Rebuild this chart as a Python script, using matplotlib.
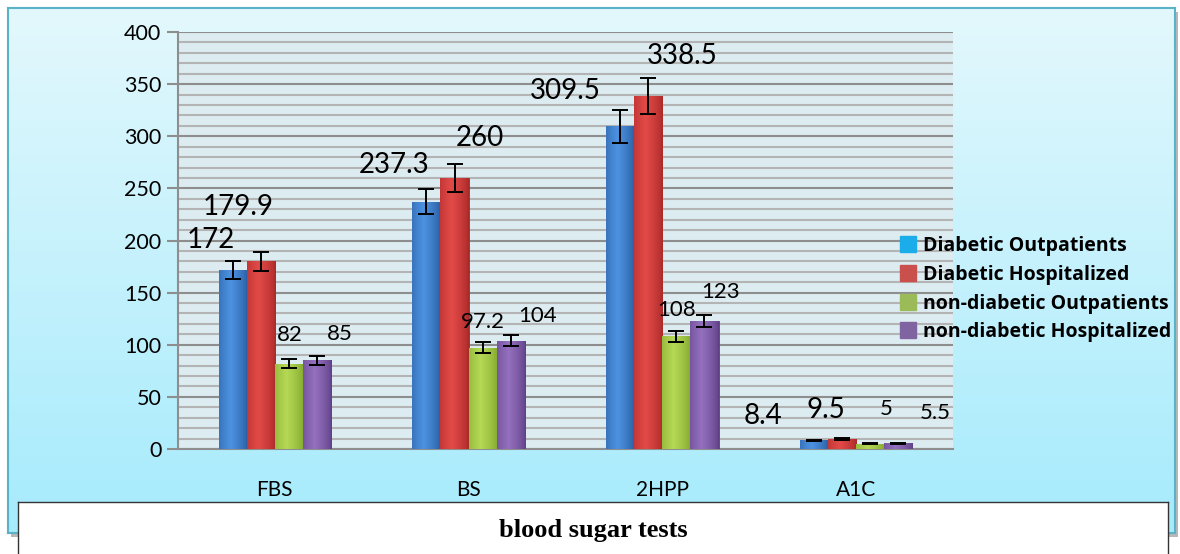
import numpy as np
import matplotlib
matplotlib.use("Agg")
import matplotlib.pyplot as plt
from matplotlib.colors import to_rgb
from matplotlib.lines import Line2D

plt.rcParams['font.family'] = ['Lato', 'DejaVu Sans']

categories = ['FBS', 'BS', '2HPP', 'A1C']
series_names = ['Diabetic Outpatients', 'Diabetic Hospitalized',
                'non-diabetic Outpatients', 'non-diabetic Hospitalized']
diab_out = [172, 237.3, 309.5, 8.4]
diab_hosp = [179.9, 260, 338.5, 9.5]
non_out = [82, 97.2, 108, 5]
non_hosp = [85, 104, 123, 5.5]
err_diab_out = [8.5, 12, 15.5, 0.5]
err_diab_hosp = [9, 13, 17, 0.6]
err_non_out = [4, 5, 5.5, 0.3]
err_non_hosp = [4.5, 5.5, 6, 0.3]

values = [diab_out, diab_hosp, non_out, non_hosp]
errors = [err_diab_out, err_diab_hosp, err_non_out, err_non_hosp]

# bar colours (dark edge, light centre) and legend swatches
bar_dark = ['#275A9E', '#A82828', '#7FA52C', '#5E3F85']
bar_light = ['#4D92E0', '#E24A47', '#B5D855', '#9470BE']
legend_cols = ['#1AADEA', '#C9504D', '#9BBB59', '#8064A2']
label_sizes = [20, 20, 16, 16]
# label offsets in pixels from top of each bar (dx, dy)
label_off = [
    [(-22, 30), (-32, 37), (-55, 35), (-51, 24)],
    [(-23, 54), (25, 40), (34, 40), (-16, 29)],
    [(1, 29), (0, 26), (0, 26), (16, 35)],
    [(23, 26), (27, 25), (16, 29), (37, 30)],
]

fig = plt.figure(figsize=(11.8, 5.54), dpi=100)
fig.patch.set_facecolor('white')

# light blue panel with vertical gradient
shadow = fig.add_axes([0.0095, 0.030, 0.989, 0.9476], zorder=0)
shadow.set_facecolor('#B8B8B8')
shadow.set_xticks([]); shadow.set_yticks([])
for s in shadow.spines.values():
    s.set_visible(False)
panel = fig.add_axes([0.0068, 0.038, 0.989, 0.9476], zorder=1)
grad = np.linspace(0, 1, 256)[:, None]
top_c = np.array(to_rgb('#E3F8FD'))
bot_c = np.array(to_rgb('#A6EBFC'))
img = top_c[None, None, :] * (1 - grad[..., None]) + bot_c[None, None, :] * grad[..., None]
panel.imshow(img, aspect='auto', extent=[0, 1, 0, 1])
panel.set_xticks([]); panel.set_yticks([])
for s in panel.spines.values():
    s.set_color('#5AB2C6')
    s.set_linewidth(1.5)

ax = fig.add_axes([0.1508, 0.1895, 0.6568, 0.7527], zorder=2)
ax.set_facecolor('#DCECF1')

x = np.arange(len(categories))
w = 0.145
for i, (vals, errs) in enumerate(zip(values, errors)):
    pos = x + (i - 1.5) * w
    bars = ax.bar(pos, vals, w, color=bar_dark[i], edgecolor=bar_dark[i],
                  linewidth=0.6, zorder=3)
    dk = np.array(to_rgb(bar_dark[i]))
    lt = np.array(to_rgb(bar_light[i]))
    t = np.linspace(0, 1, 64)
    prof = np.clip(1 - np.abs(t - 0.4) / 0.6, 0, 1) ** 0.7
    row = dk[None, :] * (1 - prof[:, None]) + lt[None, :] * prof[:, None]
    for b in bars:
        im = ax.imshow(row[None, :, :], aspect='auto', zorder=3.5,
                       extent=[b.get_x(), b.get_x() + b.get_width(), 0, b.get_height()])
        im.set_clip_path(b)
    ax.errorbar(pos, vals, yerr=errs, fmt='none', ecolor='black',
                elinewidth=1.4, capsize=6, capthick=1.4, zorder=4)
    for j, b in enumerate(bars):
        v = vals[j]
        ax.annotate(f'{v:g}', (b.get_x() + b.get_width() / 2, v),
                    xytext=label_off[i][j], textcoords='offset pixels',
                    ha='center', va='center', fontsize=label_sizes[i],
                    color='black', zorder=5)

ax.set_xlim(-0.5, 3.5)
ax.set_ylim(0, 400)
ax.set_yticks(np.arange(0, 401, 50))
ax.set_yticks(np.arange(0, 401, 10), minor=True)
ax.grid(which='major', axis='y', color='#8E8E8E', linewidth=1.5, zorder=1)
ax.grid(which='minor', axis='y', color='#B4B4B4', linewidth=1.5, zorder=1)
ax.set_axisbelow(True)
ax.set_xticks(x)
ax.set_xticklabels(categories, fontsize=15)
ax.tick_params(axis='x', length=0, pad=22)
ax.tick_params(axis='y', which='major', length=8, color='#8E8E8E', width=1.5,
               labelsize=15.5, pad=4)
ax.tick_params(axis='y', which='minor', length=0)
for side in ['top', 'right']:
    ax.spines[side].set_visible(False)
ax.spines['left'].set_color('#8E8E8E')
ax.spines['left'].set_linewidth(1.5)
ax.spines['bottom'].set_color('#8E8E8E')
ax.spines['bottom'].set_linewidth(1.5)

handles = [Line2D([], [], marker='s', linestyle='none', markersize=11,
                  markerfacecolor=c, markeredgecolor=c) for c in legend_cols]
leg = fig.legend(handles, series_names, loc='upper left',
                 bbox_to_anchor=(0.755, 0.588), frameon=False,
                 prop={'family': ['Open Sans', 'DejaVu Sans'], 'weight': 'bold', 'size': 14},
                 handletextpad=0.25, labelspacing=0.45, handlelength=1.0,
                 borderaxespad=0)
leg.set_zorder(6)

# title box at the bottom
tbox = fig.add_axes([0.0153, -0.02, 0.9746, 0.1139], zorder=3)
tbox.set_facecolor('white')
tbox.set_xticks([]); tbox.set_yticks([])
for s in tbox.spines.values():
    s.set_color('#333333')
    s.set_linewidth(1.0)
fig.text(0.5025, 0.043, 'blood sugar tests', ha='center', va='center',
         fontsize=19, fontweight='bold', family=['Liberation Serif', 'DejaVu Serif'],
         zorder=7)

fig.savefig('out.png', dpi=100)
